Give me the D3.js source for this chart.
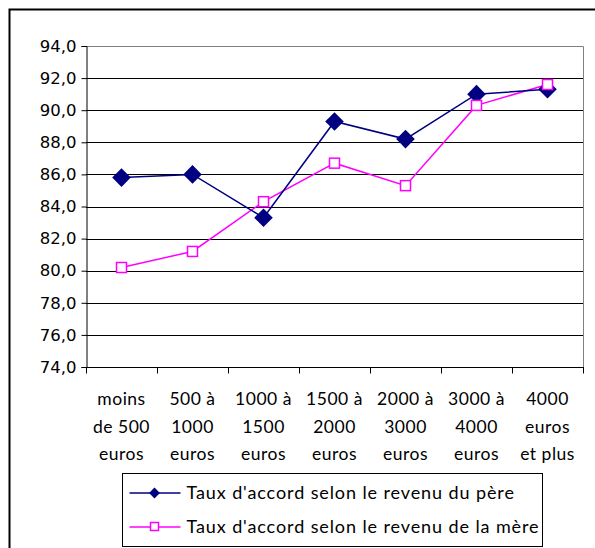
<!DOCTYPE html>
<html>
<head>
<meta charset="utf-8">
<script src="https://cdn.jsdelivr.net/npm/d3@7"></script>
<style>
  body { margin: 0; background: #fff; }
  svg { display: block; }
</style>
</head>
<body>
<div id="chart"></div>
<script>
// categories and series
const categories = [
    ['moins', 'de 500', 'euros'],
    ['500 à', '1000', 'euros'],
    ['1000 à', '1500', 'euros'],
    ['1500 à', '2000', 'euros'],
    ['2000 à', '3000', 'euros'],
    ['3000 à', '4000', 'euros'],
    ['4000', 'euros', 'et plus']
];
const pere = [85.8, 86.0, 83.3, 89.3, 88.2, 91.0, 91.3];
const mere = [80.2, 81.2, 84.3, 86.7, 85.3, 90.3, 91.6];
const yTicks = [74, 76, 78, 80, 82, 84, 86, 88, 90, 92, 94];
const seriesNames = ["Taux d'accord selon le revenu du père", "Taux d'accord selon le revenu de la mère"];

const width = 595, height = 548;
const margin = {left: 86, right: 12, top: 46, bottom: 181};

const svg = d3.select('#chart').append('svg')
    .attr('width', width)
    .attr('height', height);

// outer chart border
svg.append('rect')
    .attr('x', 9.5).attr('y', 9.5)
    .attr('width', 600).attr('height', 600)
    .attr('fill', 'none')
    .attr('stroke', '#000')
    .attr('stroke-width', 2);

const x = d3.scaleBand()
    .domain(d3.range(categories.length))
    .range([margin.left, width - margin.right]);

const y = d3.scaleLinear()
    .domain([74, 94])
    .range([height - margin.bottom, margin.top]);

// gridlines
svg.append('g')
    .selectAll('line')
    .data(yTicks.slice(1, -1))
    .join('line')
    .attr('x1', margin.left).attr('x2', width - margin.right)
    .attr('y1', d => Math.round(y(d)) + 0.5).attr('y2', d => Math.round(y(d)) + 0.5)
    .attr('stroke', '#000')
    .attr('stroke-width', 1);

// plot area border (top + right grey)
svg.append('path')
    .attr('d', `M${margin.left},${Math.round(y(94)) + 0.5}H${width - margin.right + 0.5}V${Math.round(y(74))}`)
    .attr('fill', 'none')
    .attr('stroke', '#808080')
    .attr('stroke-width', 1);

// y axis
const yAxis = svg.append('g')
    .attr('transform', `translate(${margin.left + 0.5},0)`)
    .call(d3.axisLeft(y).tickValues(yTicks).tickSize(5).tickPadding(5)
        .tickFormat(d => d.toFixed(1).replace('.', ',')));
yAxis.select('.domain').attr('stroke', '#000');
yAxis.selectAll('line').attr('stroke', '#000');
yAxis.selectAll('text')
    .attr('font-family', 'DejaVu Sans, Verdana, sans-serif')
    .attr('font-size', 16.5)
    .attr('fill', '#000');

// x axis: ticks at category boundaries
const xb = Math.round(y(74)) + 0.5;
svg.append('line')
    .attr('x1', margin.left).attr('x2', width - margin.right + 1)
    .attr('y1', xb).attr('y2', xb)
    .attr('stroke', '#000');
svg.append('g')
    .selectAll('line')
    .data(d3.range(categories.length + 1))
    .join('line')
    .attr('x1', i => Math.round(margin.left + i * x.step()) + 0.5)
    .attr('x2', i => Math.round(margin.left + i * x.step()) + 0.5)
    .attr('y1', xb).attr('y2', xb + 6)
    .attr('stroke', '#000');

// category labels
const catG = svg.append('g')
    .attr('font-family', 'Lato, Open Sans, sans-serif')
    .attr('font-size', 17.5)
    .attr('fill', '#000')
    .attr('text-anchor', 'middle');
categories.forEach((lines, i) => {
    const t = catG.append('text')
        .attr('x', x(i) + x.bandwidth() / 2)
        .attr('y', 405);
    lines.forEach((l, j) => {
        t.append('tspan')
            .attr('x', x(i) + x.bandwidth() / 2)
            .attr('dy', j === 0 ? 0 : 27.7)
            .attr('letter-spacing', 0.5)
            .text(l);
    });
});

const cx = i => x(i) + x.bandwidth() / 2;
const line = d3.line().x((d, i) => cx(i)).y(d => y(d));
const diamond = d3.symbol().type(d3.symbolDiamond2).size(220);

// mère series line (drawn first, under)
svg.append('path')
    .datum(mere)
    .attr('d', line)
    .attr('fill', 'none')
    .attr('stroke', '#ff00ff')
    .attr('stroke-width', 1.5);

// père series
svg.append('path')
    .datum(pere)
    .attr('d', line)
    .attr('fill', 'none')
    .attr('stroke', '#000080')
    .attr('stroke-width', 1.5);
svg.append('g')
    .selectAll('path')
    .data(pere)
    .join('path')
    .attr('d', diamond)
    .attr('transform', (d, i) => `translate(${cx(i)},${y(d)})`)
    .attr('fill', '#000080');

svg.append('g')
    .selectAll('rect')
    .data(mere)
    .join('rect')
    .attr('x', (d, i) => cx(i) - 5)
    .attr('y', d => y(d) - 5)
    .attr('width', 10).attr('height', 10)
    .attr('fill', '#fff')
    .attr('stroke', '#ff00ff')
    .attr('stroke-width', 1.5);

// legend
const lg = svg.append('g').attr('transform', 'translate(122.5,473.5)');
lg.append('rect')
    .attr('width', 420).attr('height', 73)
    .attr('fill', '#fff')
    .attr('stroke', '#000')
    .attr('stroke-width', 1);
const rows = [{c: '#000080', y: 19.5}, {c: '#ff00ff', y: 53.5}];
rows.forEach((r, i) => {
    lg.append('line')
        .attr('x1', 7).attr('x2', 58)
        .attr('y1', r.y).attr('y2', r.y)
        .attr('stroke', r.c).attr('stroke-width', 1.5);
    if (i === 0) {
        lg.append('path')
            .attr('d', d3.symbol().type(d3.symbolDiamond2).size(75))
            .attr('transform', `translate(32,${r.y})`)
            .attr('fill', r.c);
    } else {
        lg.append('rect')
            .attr('x', 28).attr('y', r.y - 4.5)
            .attr('width', 8).attr('height', 8)
            .attr('fill', '#fff').attr('stroke', r.c).attr('stroke-width', 1.5);
    }
    lg.append('text')
        .attr('x', 64).attr('y', r.y + 6)
        .attr('font-family', 'Lato, Open Sans, sans-serif')
        .attr('font-size', 18)
        .attr('letter-spacing', 0.9)
        .attr('fill', '#000')
        .text(seriesNames[i]);
});
</script>
</body>
</html>
